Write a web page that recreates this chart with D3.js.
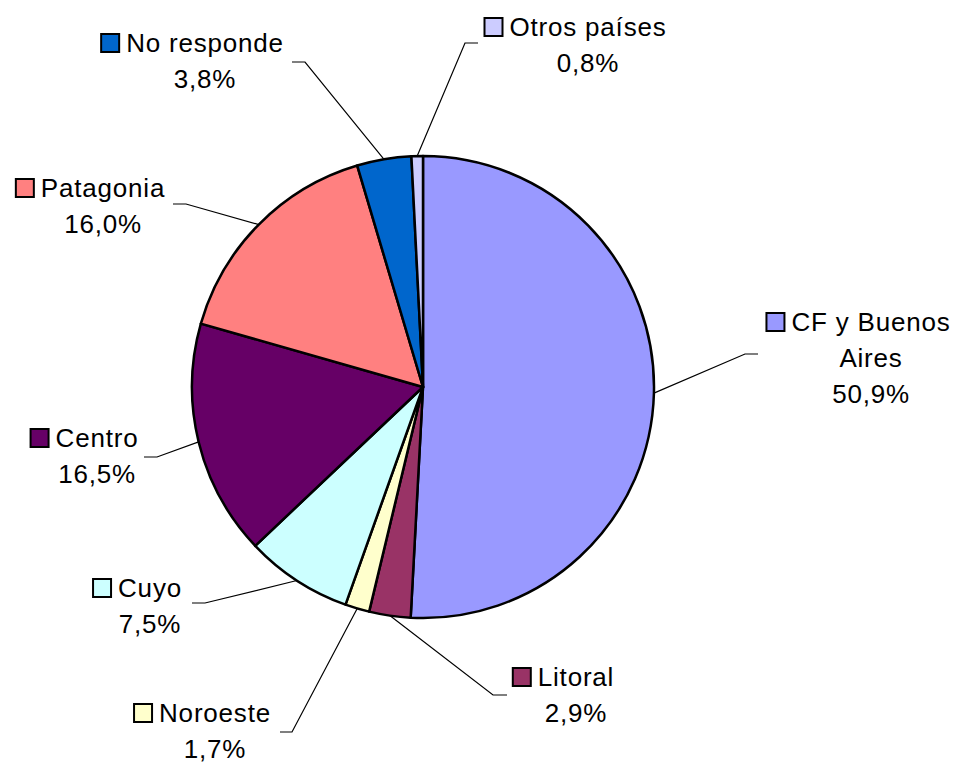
<!DOCTYPE html>
<html>
<head>
<meta charset="utf-8">
<script src="https://cdn.jsdelivr.net/npm/d3@7"></script>
<style>
  html, body { margin: 0; padding: 0; background: #fff; }
  svg { display: block; }
  .lbl { font-family: "Liberation Sans", Arial, sans-serif; font-size: 26px; letter-spacing: 0.8px; fill: #000; }
</style>
</head>
<body>
<div class="chart"></div>
<script>
// data, clockwise from 12 o'clock
var categories = ["CF y Buenos Aires", "Litoral", "Noroeste", "Cuyo", "Centro", "Patagonia", "No responde", "Otros países"];
var shares = [50.9, 2.9, 1.7, 7.5, 16.5, 16.0, 3.8, 0.8];
var labelLines = [["CF y Buenos", "Aires"], ["Litoral"], ["Noroeste"], ["Cuyo"], ["Centro"], ["Patagonia"], ["No responde"], ["Otros países"]];
var colors = ["#9999FF", "#993366", "#FFFFCC", "#CCFFFF", "#660066", "#FF8080", "#0066CC", "#CCCCFF"];

// where each label sits (text centre, first baseline) and its leader knee
var labelLayout = {
  "CF y Buenos Aires": { cx: 871, y: 331, kx: 745, ky: 354, tx: 758 },
  "Litoral":           { cx: 576, y: 686, kx: 493, ky: 695, tx: 507 },
  "Noroeste":          { cx: 215, y: 722, kx: 292, ky: 732, tx: 280 },
  "Cuyo":              { cx: 150, y: 597, kx: 205, ky: 603, tx: 192 },
  "Centro":            { cx: 97,  y: 447, kx: 157, ky: 457, tx: 144 },
  "Patagonia":         { cx: 103, y: 197, kx: 186, ky: 204, tx: 173 },
  "No responde":       { cx: 205, y: 52,  kx: 305, ky: 62,  tx: 292 },
  "Otros países":      { cx: 588, y: 36,  kx: 465, ky: 43,  tx: 478 }
};

var width = 959, height = 764,
    cx = 423, cy = 387, radius = 231,
    lineGap = 36, keySize = 18, keyGap = 7;

var fmt = d3.format(".1f");
function pct(v) { return fmt(v).replace(".", ",") + "%"; }

var rows = categories.map(function(c, i) {
  return { name: c, value: shares[i], lines: labelLines[i], color: colors[i] };
});

var svg = d3.select(".chart").append("svg")
  .attr("width", width)
  .attr("height", height);

var pie = d3.pie().sort(null).value(function(d) { return d.value; });
var arc = d3.arc().innerRadius(0).outerRadius(radius);
var edge = d3.arc().innerRadius(radius).outerRadius(radius);

var arcs = pie(rows);

var g = svg.append("g").attr("transform", "translate(" + cx + "," + cy + ")");

g.selectAll("path.slice")
  .data(arcs)
  .enter().append("path")
    .attr("class", "slice")
    .attr("d", arc)
    .attr("fill", function(d) { return d.data.color; })
    .attr("stroke", "#000")
    .attr("stroke-width", 2.5)
    .attr("stroke-linejoin", "round");

// leader lines
svg.selectAll("polyline.leader")
  .data(arcs)
  .enter().append("polyline")
    .attr("class", "leader")
    .attr("fill", "none")
    .attr("stroke", "#000")
    .attr("stroke-width", 1.2)
    .attr("points", function(d) {
      var p = edge.centroid(d), L = labelLayout[d.data.name];
      return [[p[0] + cx, p[1] + cy], [L.kx, L.ky], [L.tx, L.ky]].map(function(q) { return q.join(","); }).join(" ");
    });

// labels with legend key
arcs.forEach(function(d) {
  var L = labelLayout[d.data.name];
  var lines = d.data.lines.concat([pct(d.data.value)]);
  var lg = svg.append("g").attr("class", "label");

  var texts = lg.selectAll("text")
    .data(lines)
    .enter().append("text")
      .attr("class", "lbl")
      .attr("x", L.cx)
      .attr("y", function(t, i) { return L.y + i * lineGap; })
      .attr("text-anchor", "middle")
      .text(function(t) { return t; });

  var w = texts.nodes()[0].getComputedTextLength();
  lg.append("rect")
    .attr("x", L.cx - w / 2 - keyGap - keySize)
    .attr("y", L.y - keySize)
    .attr("width", keySize)
    .attr("height", keySize)
    .attr("fill", d.data.color)
    .attr("stroke", "#000")
    .attr("stroke-width", 2);
});
</script>
</body>
</html>
